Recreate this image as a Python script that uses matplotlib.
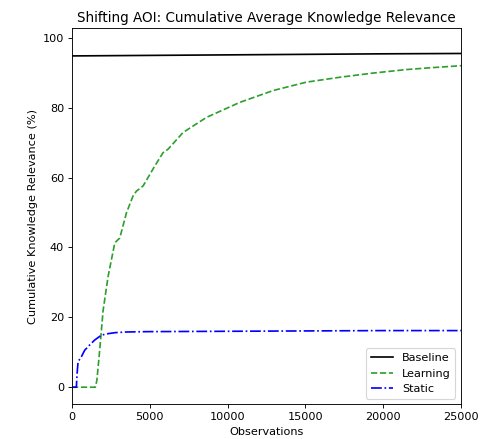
import numpy as np
import matplotlib.pyplot as plt

# cumulative average knowledge relevance (%) vs. number of observations
baseline_obs = [0, 5000, 10000, 15000, 20000, 25000]
baseline_val = [94.8, 94.95, 95.1, 95.25, 95.4, 95.5]

learning_obs = [0, 1500, 1600, 1780, 2000, 2320, 2750, 3070, 3500, 3920, 4140,
                4570, 5320, 5850, 6170, 7140, 8640, 10780, 12930, 15070,
                17220, 19360, 21500, 23000, 25000]
learning_val = [0, 0, 2.0, 10.6, 22.0, 31.7, 41.3, 42.7, 49.9, 54.7, 56.1,
                57.6, 63.3, 67.1, 68.1, 72.9, 77.2, 81.5, 84.9, 87.3,
                88.7, 89.9, 90.9, 91.4, 92.0]

static_obs = [0, 280, 330, 390, 600, 820, 1140, 1460, 1890, 2300, 2750, 3500,
              4890, 10000, 15000, 20000, 25000]
static_val = [0, 0, 4.0, 7.3, 8.7, 10.6, 12.1, 13.5, 14.9, 15.3, 15.6, 15.8,
              15.9, 16.0, 16.1, 16.2, 16.2]

DPI = 81
fig = plt.figure(figsize=(480 / DPI, 439 / DPI), dpi=DPI)
ax = fig.add_axes([0.15, 0.079, 0.8104, 0.8565])

ax.plot(baseline_obs, baseline_val, color='k', linestyle='-', label='Baseline')
ax.plot(learning_obs, learning_val, color='#2ca02c', linestyle='--', label='Learning')
ax.plot(static_obs, static_val, color='b', linestyle='-.', label='Static')

ax.set_xlim(0, 25000)
ax.set_ylim(-4.9, 102.7)
ax.set_xticks(np.arange(0, 25001, 5000))
ax.set_yticks(np.arange(0, 101, 20))
ax.set_title('Shifting AOI: Cumulative Average Knowledge Relevance')
ax.set_xlabel('Observations')
ax.set_ylabel('Cumulative Knowledge Relevance (%)')
ax.legend(loc='lower right')

fig.savefig('out.png', dpi=DPI)
